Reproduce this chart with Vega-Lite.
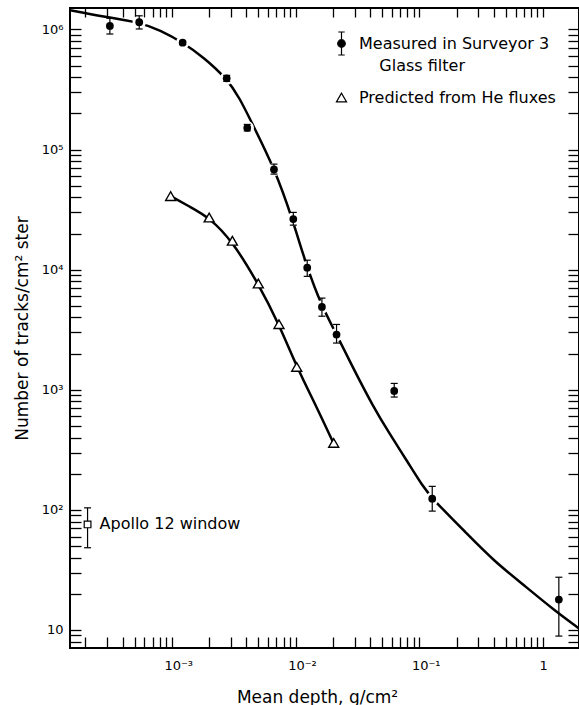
{
  "$schema": "https://vega.github.io/schema/vega-lite/v6.json",
  "width": 509,
  "height": 640,
  "autosize": {"type": "none"},
  "padding": {"left": 70, "top": 8, "right": 0, "bottom": 57},
  "background": "white",
  "config": {
    "view": {"stroke": "black", "strokeWidth": 2},
    "font": "DejaVu Sans",
    "axis": {
      "domain": false, "tickColor": "black", "tickWidth": 1.3,
      "labelColor": "black", "titleColor": "black", "grid": false,
      "labelFont": "DejaVu Sans", "titleFont": "DejaVu Sans", "titleFontWeight": "normal",
      "labelOverlap": false, "labelFlush": false
    },
    "legend": {
      "labelFont": "DejaVu Sans", "labelFontSize": 16, "labelColor": "black",
      "symbolSize": 529, "symbolStrokeWidth": 1.2,
      "labelOffset": 5, "rowPadding": 11, "padding": 0, "labelLimit": 400, "labelBaseline": "middle"
    },
    "style": {"guide-label": {"lineHeight": 22}}
  },
  "datasets": {
    "points": [
      {"series": "Measured in Surveyor 3", "depth": 0.000315, "n": 1070000, "lo": 917000, "hi": 1240000},
      {"series": "Measured in Surveyor 3", "depth": 0.000544, "n": 1150000, "lo": 1010000, "hi": 1300000},
      {"series": "Measured in Surveyor 3", "depth": 0.00122, "n": 777000, "lo": 750000, "hi": 800000},
      {"series": "Measured in Surveyor 3", "depth": 0.00277, "n": 392000, "lo": 370000, "hi": 415000},
      {"series": "Measured in Surveyor 3", "depth": 0.00406, "n": 152000, "lo": 143000, "hi": 162000},
      {"series": "Measured in Surveyor 3", "depth": 0.00668, "n": 68400, "lo": 62500, "hi": 75700},
      {"series": "Measured in Surveyor 3", "depth": 0.00957, "n": 26400, "lo": 23500, "hi": 30000},
      {"series": "Measured in Surveyor 3", "depth": 0.0124, "n": 10400, "lo": 8800, "hi": 12000},
      {"series": "Measured in Surveyor 3", "depth": 0.0163, "n": 4900, "lo": 4100, "hi": 5800},
      {"series": "Measured in Surveyor 3", "depth": 0.0214, "n": 2880, "lo": 2450, "hi": 3500},
      {"series": "Measured in Surveyor 3", "depth": 0.0626, "n": 978, "lo": 870, "hi": 1130},
      {"series": "Measured in Surveyor 3", "depth": 0.127, "n": 124, "lo": 97.7, "hi": 157},
      {"series": "Measured in Surveyor 3", "depth": 1.34, "n": 17.9, "lo": 8.9, "hi": 27.5},
      {"series": "Predicted from He fluxes", "depth": 0.000976, "n": 41000},
      {"series": "Predicted from He fluxes", "depth": 0.002, "n": 27200},
      {"series": "Predicted from He fluxes", "depth": 0.00308, "n": 17400},
      {"series": "Predicted from He fluxes", "depth": 0.00499, "n": 7670},
      {"series": "Predicted from He fluxes", "depth": 0.00733, "n": 3520},
      {"series": "Predicted from He fluxes", "depth": 0.0102, "n": 1550},
      {"series": "Predicted from He fluxes", "depth": 0.0203, "n": 361},
      {"series": "Apollo 12 window", "depth": 0.000208, "n": 75.7, "lo": 48.4, "hi": 104, "label": "Apollo 12 window"}
    ],
    "measuredCurve": [
      {"depth": 0.00015, "n": 1450000},
      {"depth": 0.000278, "n": 1280000},
      {"depth": 0.000544, "n": 1148000},
      {"depth": 0.0008, "n": 990000},
      {"depth": 0.001234, "n": 776000},
      {"depth": 0.00179, "n": 590000},
      {"depth": 0.00277, "n": 392000},
      {"depth": 0.00355, "n": 265000},
      {"depth": 0.00427, "n": 179500},
      {"depth": 0.00676, "n": 69700},
      {"depth": 0.00946, "n": 26200},
      {"depth": 0.01228, "n": 10550},
      {"depth": 0.01632, "n": 4900},
      {"depth": 0.02146, "n": 2880},
      {"depth": 0.0275, "n": 1705},
      {"depth": 0.0424, "n": 719},
      {"depth": 0.0579, "n": 425},
      {"depth": 0.0789, "n": 258.5},
      {"depth": 0.1075, "n": 154.9},
      {"depth": 0.127, "n": 124},
      {"depth": 0.2412, "n": 63.7},
      {"depth": 0.3957, "n": 37.9},
      {"depth": 0.737, "n": 22.6},
      {"depth": 1.209, "n": 14.8},
      {"depth": 1.95, "n": 10.29}
    ],
    "predictedCurve": [
      {"depth": 0.000976, "n": 41000},
      {"depth": 0.001398, "n": 33370},
      {"depth": 0.002, "n": 27200},
      {"depth": 0.00307, "n": 17380},
      {"depth": 0.00498, "n": 7670},
      {"depth": 0.00733, "n": 3520},
      {"depth": 0.01019, "n": 1549},
      {"depth": 0.01478, "n": 719},
      {"depth": 0.0203, "n": 356}
    ]
  },
  "resolve": {"axis": {"x": "independent", "y": "independent"}},
  "layer": [
    {
      "data": {"name": "measuredCurve"},
      "mark": {"type": "line", "color": "black", "strokeWidth": 2.5, "interpolate": "basis", "clip": true},
      "encoding": {
        "x": {
          "field": "depth", "type": "quantitative",
          "scale": {"type": "log", "domain": [0.00015, 1.95], "nice": false},
          "axis": {
            "orient": "bottom", "ticks": false,
            "values": [0.001, 0.01, 0.1, 1],
            "labelExpr": "datum.value == 0.001 ? '10⁻³' : datum.value == 0.01 ? '10⁻²' : datum.value == 0.1 ? '10⁻¹' : '1'",
            "labelPadding": 11, "labelFontSize": 13, "labelAlign": "left",
            "labelOffset": {"condition": {"test": "datum.value == 1", "value": -4}, "value": -8},
            "title": "Mean depth, g/cm²", "titleFontSize": 17, "titlePadding": 17, "titleX": 247
          }
        },
        "y": {
          "field": "n", "type": "quantitative",
          "scale": {"type": "log", "domain": [7.08, 1510000], "nice": false},
          "axis": {
            "orient": "left", "ticks": false,
            "values": [10, 100, 1000, 10000, 100000, 1000000],
            "labelExpr": "datum.value == 10 ? '10' : datum.value == 100 ? '10²' : datum.value == 1000 ? '10³' : datum.value == 10000 ? '10⁴' : datum.value == 100000 ? '10⁵' : '10⁶'",
            "labelPadding": 7, "labelFontSize": 13,
            "title": "Number of tracks/cm² ster", "titleFontSize": 17, "titlePadding": 10
          }
        }
      }
    },
    {
      "data": {"name": "predictedCurve"},
      "mark": {"type": "line", "color": "black", "strokeWidth": 2.5, "interpolate": "basis"},
      "encoding": {
        "x": {
          "field": "depth", "type": "quantitative", "scale": {"type": "log"},
          "axis": {
            "orient": "bottom", "labels": false, "title": null, "tickSize": 11, "offset": -11,
            "values": [0.0002, 0.0003, 0.0004, 0.0005, 0.0006, 0.0007, 0.0008, 0.0009, 0.001, 0.002, 0.003, 0.004, 0.005, 0.006, 0.007, 0.008, 0.009, 0.01, 0.02, 0.03, 0.04, 0.05, 0.06, 0.07, 0.08, 0.09, 0.1, 0.2, 0.3, 0.4, 0.5, 0.6, 0.7, 0.8, 0.9, 1]
          }
        },
        "y": {
          "field": "n", "type": "quantitative", "scale": {"type": "log"},
          "axis": {
            "orient": "left", "labels": false, "title": null, "tickSize": 11, "offset": -11,
            "values": [8, 9, 10, 20, 30, 40, 50, 60, 70, 80, 90, 100, 200, 300, 400, 500, 600, 700, 800, 900, 1000, 2000, 3000, 4000, 5000, 6000, 7000, 8000, 9000, 10000, 20000, 30000, 40000, 50000, 60000, 70000, 80000, 90000, 100000, 200000, 300000, 400000, 500000, 600000, 700000, 800000, 900000, 1000000]
          }
        }
      }
    },
    {
      "data": {"name": "points"},
      "transform": [{"filter": "datum.series == 'Measured in Surveyor 3'"}],
      "mark": {"type": "point", "shape": "circle", "filled": true, "color": "white", "opacity": 1, "size": 180},
      "encoding": {
        "x": {
          "field": "depth", "type": "quantitative", "scale": {"type": "log"},
          "axis": {
            "orient": "top", "labels": false, "title": null, "tickSize": 9, "offset": -9,
            "values": [0.0002, 0.0003, 0.0004, 0.0005, 0.0006, 0.0007, 0.0008, 0.0009, 0.001, 0.002, 0.003, 0.004, 0.005, 0.006, 0.007, 0.008, 0.009, 0.01, 0.02, 0.03, 0.04, 0.05, 0.06, 0.07, 0.08, 0.09, 0.1, 0.2, 0.3, 0.4, 0.5, 0.6, 0.7, 0.8, 0.9, 1]
          }
        },
        "y": {
          "field": "n", "type": "quantitative", "scale": {"type": "log"},
          "axis": {
            "orient": "right", "labels": false, "title": null, "tickSize": 11, "offset": -11,
            "values": [8, 9, 10, 20, 30, 40, 50, 60, 70, 80, 90, 100, 200, 300, 400, 500, 600, 700, 800, 900, 1000, 2000, 3000, 4000, 5000, 6000, 7000, 8000, 9000, 10000, 20000, 30000, 40000, 50000, 60000, 70000, 80000, 90000, 100000, 200000, 300000, 400000, 500000, 600000, 700000, 800000, 900000, 1000000]
          }
        }
      }
    },
    {
      "data": {"name": "points"},
      "transform": [{"filter": "isValid(datum.lo)"}],
      "mark": {"type": "rule", "color": "black", "strokeWidth": 1.2},
      "encoding": {
        "x": {"field": "depth", "type": "quantitative", "scale": {"type": "log"}, "axis": null},
        "y": {"field": "lo", "type": "quantitative", "scale": {"type": "log"}, "axis": null},
        "y2": {"field": "hi"}
      }
    },
    {
      "data": {"name": "points"},
      "transform": [{"filter": "isValid(datum.lo)"}],
      "mark": {"type": "point", "shape": "stroke", "filled": false, "color": "black", "opacity": 1, "strokeWidth": 1.2, "size": 49},
      "encoding": {
        "x": {"field": "depth", "type": "quantitative", "scale": {"type": "log"}, "axis": null},
        "y": {"field": "lo", "type": "quantitative", "scale": {"type": "log"}, "axis": null}
      }
    },
    {
      "data": {"name": "points"},
      "transform": [{"filter": "isValid(datum.hi)"}],
      "mark": {"type": "point", "shape": "stroke", "filled": false, "color": "black", "opacity": 1, "strokeWidth": 1.2, "size": 49},
      "encoding": {
        "x": {"field": "depth", "type": "quantitative", "scale": {"type": "log"}, "axis": null},
        "y": {"field": "hi", "type": "quantitative", "scale": {"type": "log"}, "axis": null}
      }
    },
    {
      "data": {"name": "points"},
      "transform": [{"filter": "datum.series == 'Measured in Surveyor 3'"}],
      "mark": {"type": "point", "shape": "circle", "filled": true, "color": "black", "opacity": 1, "size": 60},
      "encoding": {
        "x": {"field": "depth", "type": "quantitative", "scale": {"type": "log"}, "axis": null},
        "y": {"field": "n", "type": "quantitative", "scale": {"type": "log"}, "axis": null}
      }
    },
    {
      "data": {"name": "points"},
      "transform": [{"filter": "datum.series == 'Predicted from He fluxes'"}],
      "mark": {"type": "point", "shape": "triangle-up", "filled": true, "fill": "white", "stroke": "black", "strokeWidth": 1.4, "opacity": 1, "size": 100},
      "encoding": {
        "x": {"field": "depth", "type": "quantitative", "scale": {"type": "log"}, "axis": null},
        "y": {"field": "n", "type": "quantitative", "scale": {"type": "log"}, "axis": null}
      }
    },
    {
      "data": {"name": "points"},
      "transform": [{"filter": "datum.series == 'Apollo 12 window'"}],
      "mark": {"type": "point", "shape": "square", "filled": true, "fill": "white", "stroke": "black", "strokeWidth": 1.2, "opacity": 1, "size": 45},
      "encoding": {
        "x": {"field": "depth", "type": "quantitative", "scale": {"type": "log"}, "axis": null},
        "y": {"field": "n", "type": "quantitative", "scale": {"type": "log"}, "axis": null}
      }
    },
    {
      "data": {"name": "points"},
      "transform": [{"filter": "datum.series == 'Apollo 12 window'"}],
      "mark": {"type": "text", "align": "left", "baseline": "middle", "dx": 12, "fontSize": 16, "font": "DejaVu Sans", "color": "black"},
      "encoding": {
        "x": {"field": "depth", "type": "quantitative", "scale": {"type": "log"}, "axis": null},
        "y": {"field": "n", "type": "quantitative", "scale": {"type": "log"}, "axis": null},
        "text": {"field": "label"}
      }
    },
    {
      "data": {"name": "points"},
      "transform": [{"filter": "datum.series == 'none'"}],
      "mark": {"type": "point", "filled": true, "opacity": 1, "stroke": "black", "strokeWidth": 1.2},
      "encoding": {
        "x": {"field": "depth", "type": "quantitative", "scale": {"type": "log"}, "axis": null},
        "y": {"field": "n", "type": "quantitative", "scale": {"type": "log"}, "axis": null},
        "fill": {
          "field": "series", "type": "nominal",
          "scale": {"domain": ["Measured in Surveyor 3", "Predicted from He fluxes"], "range": ["black", "white"]},
          "legend": {
            "orient": "none", "legendX": 259, "legendY": 23, "title": null,
            "labelExpr": "datum.label == 'Measured in Surveyor 3' ? ['Measured in Surveyor 3', '\u200b\u00a0\u00a0\u00a0\u00a0Glass filter'] : datum.label"
          }
        },
        "shape": {
          "field": "series", "type": "nominal",
          "scale": {
            "domain": ["Measured in Surveyor 3", "Predicted from He fluxes"],
            "range": [
              "M-0.33,0A0.33,0.33,0,1,1,0.33,0A0.33,0.33,0,1,1,-0.33,0Z M0,-1L0,1 M-0.28,-1L0.28,-1 M-0.28,1L0.28,1",
              "M0,-0.38L-0.44,0.38L0.44,0.38Z"
            ]
          },
          "legend": {
            "orient": "none", "legendX": 259, "legendY": 23, "title": null,
            "labelExpr": "datum.label == 'Measured in Surveyor 3' ? ['Measured in Surveyor 3', '\u200b\u00a0\u00a0\u00a0\u00a0Glass filter'] : datum.label"
          }
        }
      }
    }
  ]
}
